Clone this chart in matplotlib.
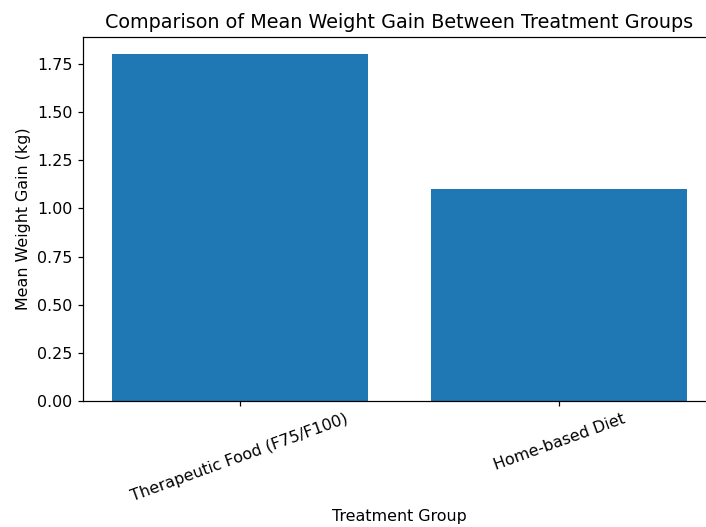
import matplotlib
matplotlib.use("Agg")
import matplotlib.pyplot as plt

# data
groups = ["Therapeutic Food (F75/F100)", "Home-based Diet"]
mean_gain = [1.80, 1.10]

plt.rcParams["font.size"] = 10.4

fig = plt.figure(figsize=(706 / 110, 527 / 110), dpi=110)
ax = fig.add_axes([83 / 706, 1 - 401 / 527, (716 - 83) / 706, (401 - 37) / 527])

ax.bar(groups, mean_gain, color="#1f77b4")
ax.set_title("Comparison of Mean Weight Gain Between Treatment Groups", fontsize=12.5)
ax.set_xlabel("Treatment Group", labelpad=3)
ax.set_ylabel("Mean Weight Gain (kg)")
plt.setp(ax.get_xticklabels(), rotation=20)

fig.savefig("out.png", dpi=110)
